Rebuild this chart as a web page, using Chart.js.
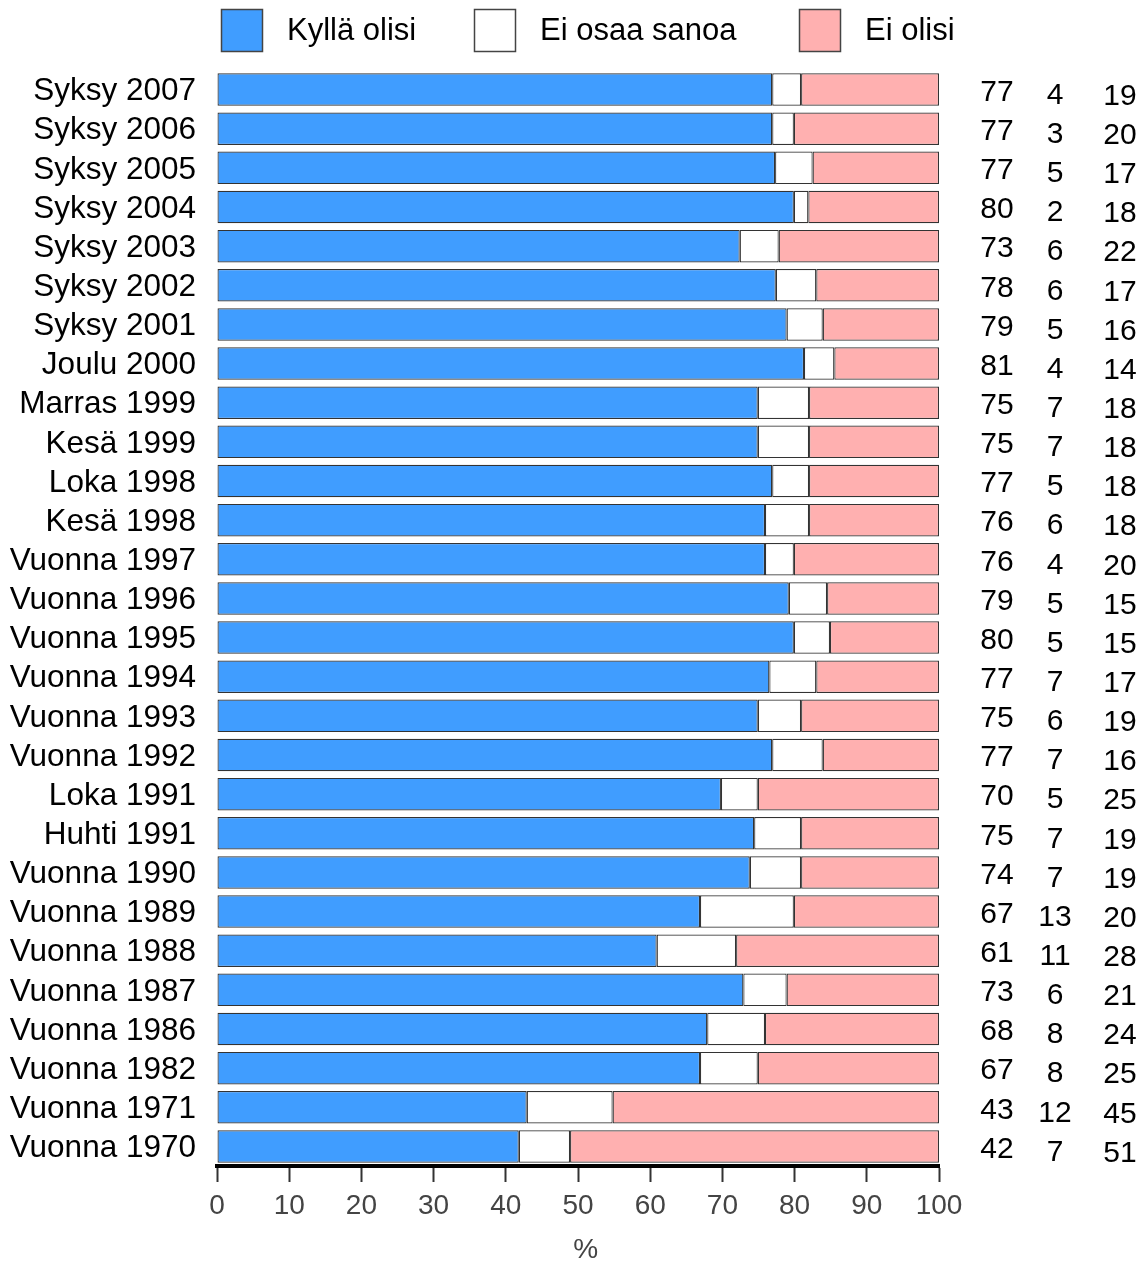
<!DOCTYPE html>
<html>
<head>
<meta charset="utf-8">
<script src="https://cdn.jsdelivr.net/npm/chart.js@4/dist/chart.umd.min.js"></script>
<style>
  body { margin: 0; background: #fff; }
  #wrap { width: 1148px; height: 1264px; position: relative; }
</style>
</head>
<body>
<div id="wrap"><canvas id="chart"></canvas></div>
<script>
// categories, top to bottom
const labels = [
  'Syksy 2007', 'Syksy 2006', 'Syksy 2005', 'Syksy 2004', 'Syksy 2003', 'Syksy 2002',
  'Syksy 2001', 'Joulu 2000', 'Marras 1999', 'Kesä 1999', 'Loka 1998', 'Kesä 1998',
  'Vuonna 1997', 'Vuonna 1996', 'Vuonna 1995', 'Vuonna 1994', 'Vuonna 1993', 'Vuonna 1992',
  'Loka 1991', 'Huhti 1991', 'Vuonna 1990', 'Vuonna 1989', 'Vuonna 1988', 'Vuonna 1987',
  'Vuonna 1986', 'Vuonna 1982', 'Vuonna 1971', 'Vuonna 1970'
];

// bar lengths (unrounded)
const yes = [76.9, 76.9, 77.3, 79.9, 72.4, 77.4, 78.9, 81.3, 74.9, 74.9, 76.9, 75.9,
             75.9, 79.2, 79.9, 76.5, 74.9, 76.9, 69.8, 74.4, 73.8, 66.9, 60.9, 72.9,
             67.9, 66.9, 42.9, 41.8];
const dontKnow = [4.0, 3.0, 5.2, 2.0, 5.4, 5.6, 5.0, 4.2, 7.1, 7.1, 5.1, 6.1,
                  4.0, 5.3, 5.0, 6.5, 6.0, 7.0, 5.1, 6.5, 7.1, 13.0, 11.0, 6.0,
                  8.0, 8.0, 11.9, 7.1];
const no = [19.1, 20.1, 17.5, 18.1, 22.2, 17.0, 16.1, 14.5, 18.0, 18.0, 18.0, 18.0,
            20.1, 15.5, 15.1, 17.0, 19.1, 16.1, 25.1, 19.1, 19.1, 20.1, 28.1, 21.1,
            24.1, 25.1, 45.2, 51.1];

// rounded figures printed at the right
const yesText = [77, 77, 77, 80, 73, 78, 79, 81, 75, 75, 77, 76, 76, 79, 80, 77, 75, 77,
                 70, 75, 74, 67, 61, 73, 68, 67, 43, 42];
const dkText = [4, 3, 5, 2, 6, 6, 5, 4, 7, 7, 5, 6, 4, 5, 5, 7, 6, 7,
                5, 7, 7, 13, 11, 6, 8, 8, 12, 7];
const noText = [19, 20, 17, 18, 22, 17, 16, 14, 18, 18, 18, 18, 20, 15, 15, 17, 19, 16,
                25, 19, 19, 20, 28, 21, 24, 25, 45, 51];

const seriesNames = ['Kyllä olisi', 'Ei osaa sanoa', 'Ei olisi'];
const seriesColors = ['#409dff', '#ffffff', '#ffb0b0'];
const FONT = '"Liberation Sans", Arial, sans-serif';

// figures column + legend drawn on top of the chart
const extrasPlugin = {
  id: 'extras',
  afterDraw(chart) {
    const ctx = chart.ctx;
    const yScale = chart.scales.y;
    ctx.save();
    ctx.fillStyle = '#000';
    ctx.font = '30px ' + FONT;
    ctx.textAlign = 'center';
    ctx.textBaseline = 'middle';
    labels.forEach((_, i) => {
      const y = yScale.getPixelForValue(i);
      ctx.fillText(String(yesText[i]), 997, y + 3);
      ctx.fillText(String(dkText[i]), 1055, y + 6);
      ctx.fillText(String(noText[i]), 1120, y + 7);
    });

    // legend
    const boxX = [221, 474, 799];
    ctx.font = '31px ' + FONT;
    ctx.textAlign = 'left';
    seriesNames.forEach((name, i) => {
      ctx.fillStyle = seriesColors[i];
      ctx.fillRect(boxX[i], 9, 41, 42);
      ctx.strokeStyle = '#444';
      ctx.lineWidth = 1.5;
      ctx.strokeRect(boxX[i] + 0.5, 9.5, 41, 42);
      ctx.fillStyle = '#000';
      ctx.fillText(name, boxX[i] + 66, 31);
    });
    ctx.restore();
  }
};

new Chart(document.getElementById('chart'), {
  type: 'bar',
  data: {
    labels: labels,
    datasets: [yes, dontKnow, no].map((d, i) => ({
      label: seriesNames[i],
      data: d,
      backgroundColor: seriesColors[i],
      borderColor: '#333',
      borderWidth: 1.2,
      borderSkipped: false,
      barPercentage: 0.83,
      categoryPercentage: 1
    }))
  },
  options: {
    indexAxis: 'y',
    responsive: true,
    maintainAspectRatio: false,
    animation: false,
    layout: { padding: { top: 70, right: 209, left: 0, bottom: 0 } },
    plugins: {
      legend: { display: false },
      tooltip: { enabled: false }
    },
    scales: {
      x: {
        stacked: true,
        min: 0,
        max: 100,
        ticks: {
          stepSize: 10,
          color: '#444',
          font: { family: FONT, size: 28 },
          padding: 7
        },
        grid: {
          drawOnChartArea: false,
          drawTicks: true,
          tickLength: 16,
          tickColor: '#333',
          tickWidth: 2
        },
        border: { display: true, color: '#000', width: 4 },
        title: {
          display: true,
          text: '  %',
          color: '#444',
          font: { family: FONT, size: 28 },
          padding: { top: 4, bottom: -3 }
        },
        afterFit(scale) { scale.height = 98; }
      },
      y: {
        stacked: true,
        ticks: {
          color: '#000',
          font: { family: FONT, size: 31.5 },
          padding: 21,
          labelOffset: 2,
          autoSkip: false
        },
        grid: { display: false, drawTicks: false },
        border: { display: false },
        afterFit(scale) { scale.width = 217; }
      }
    }
  },
  plugins: [extrasPlugin]
});
</script>
</body>
</html>
